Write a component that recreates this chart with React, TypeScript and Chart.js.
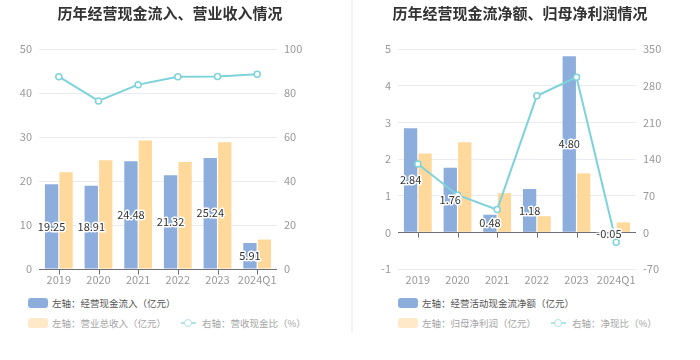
import { useEffect, useRef } from 'react';
import { Chart, registerables } from 'chart.js';

Chart.register(...registerables);

const FONT = '"Noto Sans CJK SC", "Noto Sans", sans-serif';

const categories = ['2019', '2020', '2021', '2022', '2023', '2024Q1'];

// Left chart
const cashInflow = [19.25, 18.91, 24.48, 21.32, 25.24, 5.91];
const operatingRevenue = [22.0, 24.7, 29.2, 24.3, 28.8, 6.7];
const cashToRevenueRatio = [87.4, 76.4, 83.8, 87.4, 87.5, 88.5];

// Right chart
const netOperatingCashFlow = [2.84, 1.76, 0.48, 1.18, 4.8, -0.05];
const netProfitParent = [2.15, 2.46, 1.07, 0.44, 1.61, 0.27];
const netCashRatio = [130.6, 71.3, 43.4, 260.6, 296.0, -19.0];

// Axis ranges: [min, max, step]
const leftChartLeftAxis = [0, 50, 10];
const leftChartRightAxis = [0, 100, 20];
const rightChartLeftAxis = [-1, 5, 1];
const rightChartRightAxis = [-70, 350, 70];

const leftTitle = '历年经营现金流入、营业收入情况';
const rightTitle = '历年经营现金流净额、归母净利润情况';
const leftLegend = ['左轴：经营现金流入（亿元）', '左轴：营业总收入（亿元）', '右轴：营收现金比（%）'];
const rightLegend = ['左轴：经营活动现金流净额（亿元）', '左轴：归母净利润（亿元）', '右轴：净现比（%）'];

const BLUE = '#8DADDC';
const YELLOW = '#FFD99B';
const TEAL = '#7DD3D9';

const zeroAxisPlugin = {
  id: 'zeroAxis',
  beforeDatasetsDraw(chart: any) {
    const { ctx, chartArea, scales } = chart;
    const y0 = Math.round(scales.y.getPixelForValue(0)) + 0.5;
    ctx.save();
    ctx.strokeStyle = '#6E7079';
    ctx.lineWidth = 1;
    ctx.beginPath();
    ctx.moveTo(chartArea.left, y0);
    ctx.lineTo(chartArea.right, y0);
    scales.x.ticks.forEach((_: any, i: number) => {
      const x = Math.round(scales.x.getPixelForTick(i)) + 0.5;
      ctx.moveTo(x, y0);
      ctx.lineTo(x, y0 + 5);
    });
    ctx.stroke();
    ctx.restore();
  },
};

const barLabelPlugin = {
  id: 'barLabels',
  afterDatasetsDraw(chart: any) {
    const { ctx } = chart;
    const meta = chart.getDatasetMeta(0);
    const values = chart.data.datasets[0].data as number[];
    ctx.save();
    ctx.font = `11px ${FONT}`;
    ctx.textAlign = 'center';
    ctx.textBaseline = 'middle';
    ctx.lineJoin = 'round';
    meta.data.forEach((el: any, i: number) => {
      const { x, y, base } = el.getProps(['x', 'y', 'base'], true);
      const cy = (y + base) / 2;
      const text = values[i].toFixed(2);
      ctx.lineWidth = 3;
      ctx.strokeStyle = '#fff';
      ctx.strokeText(text, x, cy);
      ctx.fillStyle = '#333';
      ctx.fillText(text, x, cy);
    });
    ctx.restore();
  },
};

function makeConfig(
  title: string,
  bars1: number[],
  bars2: number[],
  line: number[],
  leftAxis: number[],
  rightAxis: number[],
  leftWidth: number,
  rightWidth: number
): any {
  const tickFont = { family: FONT, size: 11 };
  return {
    type: 'bar',
    data: {
      labels: categories,
      datasets: [
        {
          type: 'bar',
          data: bars1,
          backgroundColor: BLUE,
          yAxisID: 'y',
          order: 1,
          categoryPercentage: 0.73,
          barPercentage: 0.92,
        },
        {
          type: 'bar',
          data: bars2,
          backgroundColor: YELLOW,
          yAxisID: 'y',
          order: 1,
          categoryPercentage: 0.73,
          barPercentage: 0.92,
        },
        {
          type: 'line',
          data: line,
          yAxisID: 'y1',
          order: 0,
          borderColor: TEAL,
          borderWidth: 2,
          pointRadius: 3,
          pointBackgroundColor: '#fff',
          pointBorderColor: TEAL,
          pointBorderWidth: 1.5,
          tension: 0,
        },
      ],
    },
    options: {
      responsive: false,
      animation: false,
      layout: { padding: 0 },
      plugins: {
        legend: { display: false },
        tooltip: { enabled: false },
        title: {
          display: true,
          text: title,
          color: '#333',
          font: { family: FONT, size: 15, weight: 'bold' },
          padding: { top: 4, bottom: 27 },
        },
      },
      scales: {
        x: {
          grid: { display: false, drawTicks: false },
          border: { display: false },
          ticks: { color: '#999', font: tickFont, padding: 4, maxRotation: 0, autoSkip: false },
          afterFit: (s: any) => {
            s.height = 21;
          },
        },
        y: {
          position: 'left',
          min: leftAxis[0],
          max: leftAxis[1],
          border: { display: false },
          grid: {
            drawTicks: false,
            color: (c: any) => (c.tick && c.tick.value === 0 ? 'rgba(0,0,0,0)' : '#E8EBF2'),
          },
          ticks: { stepSize: leftAxis[2], color: '#999', font: tickFont, padding: 7 },
          afterFit: (s: any) => {
            s.width = leftWidth;
          },
        },
        y1: {
          position: 'right',
          min: rightAxis[0],
          max: rightAxis[1],
          border: { display: false },
          grid: { display: false, drawTicks: false },
          ticks: { stepSize: rightAxis[2], color: '#999', font: tickFont, padding: 7 },
          afterFit: (s: any) => {
            s.width = rightWidth;
          },
        },
      },
    },
    plugins: [zeroAxisPlugin, barLabelPlugin],
  };
}

function Legend({ labels, left }: { labels: string[]; left: number }) {
  const text = { fontFamily: FONT, fontSize: 9.5, lineHeight: '12px', whiteSpace: 'nowrap' as const };
  const box = (color: string) => ({
    width: 20,
    height: 10,
    borderRadius: 3,
    background: color,
    marginRight: 4,
    flex: 'none' as const,
  });
  return (
    <>
      <div style={{ position: 'absolute', left, top: 297, height: 12, display: 'flex', alignItems: 'center' }}>
        <div style={box(BLUE)} />
        <span style={{ ...text, color: '#555' }}>{labels[0]}</span>
      </div>
      <div style={{ position: 'absolute', left, top: 317, height: 12, display: 'flex', alignItems: 'center' }}>
        <div style={box('#FFE9C9')} />
        <span style={{ ...text, color: '#A5A5A5' }}>{labels[1]}</span>
        <div style={{ position: 'relative', width: 15, height: 12, marginLeft: 15, marginRight: 6, flex: 'none' }}>
          <div style={{ position: 'absolute', left: 0, top: 5, width: 15, height: 2, background: '#AEE3E7' }} />
          <div
            style={{
              position: 'absolute',
              left: 3,
              top: 2,
              width: 6,
              height: 6,
              borderRadius: '50%',
              border: '1.5px solid #AEE3E7',
              background: '#fff',
            }}
          />
        </div>
        <span style={{ ...text, color: '#A5A5A5' }}>{labels[2]}</span>
      </div>
    </>
  );
}

function ChartPanel({ config, left, legend, legendLeft }: any) {
  const ref = useRef<HTMLCanvasElement | null>(null);
  useEffect(() => {
    if (!ref.current) return;
    const chart = new Chart(ref.current, config);
    return () => chart.destroy();
  }, [config]);
  return (
    <div style={{ position: 'absolute', left, top: 0, width: 340, height: 360 }}>
      <canvas ref={ref} width={340} height={290} style={{ display: 'block', width: 340, height: 290 }} />
      <Legend labels={legend} left={legendLeft} />
    </div>
  );
}

const leftConfig = makeConfig(
  leftTitle,
  cashInflow,
  operatingRevenue,
  cashToRevenueRatio,
  leftChartLeftAxis,
  leftChartRightAxis,
  39,
  63
);
const rightConfig = makeConfig(
  rightTitle,
  netOperatingCashFlow,
  netProfitParent,
  netCashRatio,
  rightChartLeftAxis,
  rightChartRightAxis,
  48,
  54
);

export default function App() {
  return (
    <div style={{ position: 'fixed', left: 0, top: 0, width: 700, height: 360, background: '#fff', overflow: 'hidden' }}>
      <ChartPanel config={leftConfig} left={0} legend={leftLegend} legendLeft={28} />
      <div style={{ position: 'absolute', left: 351, top: 0, width: 2, height: 333, background: '#F4F4F4' }} />
      <ChartPanel config={rightConfig} left={350} legend={rightLegend} legendLeft={48} />
    </div>
  );
}
